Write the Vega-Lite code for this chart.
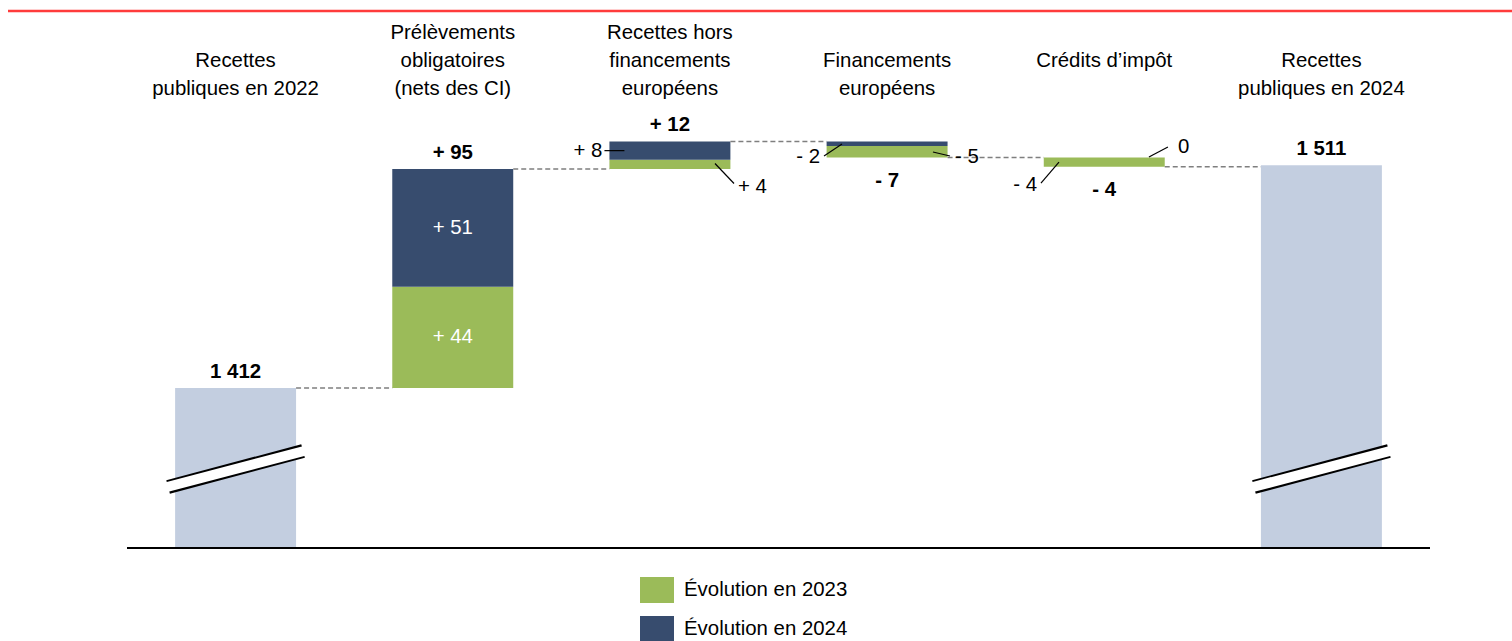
{
  "$schema": "https://vega.github.io/schema/vega-lite/v6.json",
  "padding": {"left": 6, "top": 9, "right": 0, "bottom": 0},
  "spacing": 9,
  "config": {
    "view": {"stroke": null},
    "font": "Liberation Sans",
    "text": {"font": "Liberation Sans", "fontSize": 20, "color": "black"}
  },
  "datasets": {
    "totals": [
      {"cat": "Recettes\npubliques en 2022", "value": 1412, "label": "1 412"},
      {"cat": "Recettes\npubliques en 2024", "value": 1508.7, "label": "1 511"}
    ],
    "segments": [
      {"cat": "Prélèvements\nobligatoires\n(nets des CI)", "serie": "Évolution en 2023", "start": 1412, "end": 1456},
      {"cat": "Prélèvements\nobligatoires\n(nets des CI)", "serie": "Évolution en 2024", "start": 1456, "end": 1507},
      {"cat": "Recettes hors\nfinancements\neuropéens", "serie": "Évolution en 2023", "start": 1507, "end": 1511},
      {"cat": "Recettes hors\nfinancements\neuropéens", "serie": "Évolution en 2024", "start": 1511, "end": 1519},
      {"cat": "Financements\neuropéens", "serie": "Évolution en 2024", "start": 1519, "end": 1517},
      {"cat": "Financements\neuropéens", "serie": "Évolution en 2023", "start": 1517, "end": 1512},
      {"cat": "Crédits d’impôt", "serie": "Évolution en 2023", "start": 1512, "end": 1508}
    ],
    "changes": [
      {"cat": "Prélèvements\nobligatoires\n(nets des CI)", "label": "+ 95", "level": 1507, "pos": "above"},
      {"cat": "Recettes hors\nfinancements\neuropéens", "label": "+ 12", "level": 1519, "pos": "above"},
      {"cat": "Financements\neuropéens", "label": "- 7", "level": 1512, "pos": "below"},
      {"cat": "Crédits d’impôt", "label": "- 4", "level": 1508, "pos": "below"}
    ],
    "connectors": [
      {"from": "Recettes\npubliques en 2022", "to": "Prélèvements\nobligatoires\n(nets des CI)", "level": 1412},
      {"from": "Prélèvements\nobligatoires\n(nets des CI)", "to": "Recettes hors\nfinancements\neuropéens", "level": 1507},
      {"from": "Recettes hors\nfinancements\neuropéens", "to": "Financements\neuropéens", "level": 1519},
      {"from": "Financements\neuropéens", "to": "Crédits d’impôt", "level": 1512},
      {"from": "Crédits d’impôt", "to": "Recettes\npubliques en 2024", "level": 1508}
    ],
    "parts": [
      {"id": "p51", "cat": "Prélèvements\nobligatoires\n(nets des CI)", "label": "+ 51", "level": 1481.5},
      {"id": "p44", "cat": "Prélèvements\nobligatoires\n(nets des CI)", "label": "+ 44", "level": 1434},
      {"id": "r8", "cat": "Recettes hors\nfinancements\neuropéens", "label": "+ 8", "level": 1515},
      {"id": "r4", "cat": "Recettes hors\nfinancements\neuropéens", "label": "+ 4", "level": 1509},
      {"id": "f2", "cat": "Financements\neuropéens", "label": "- 2", "level": 1518},
      {"id": "f5", "cat": "Financements\neuropéens", "label": "- 5", "level": 1514.5},
      {"id": "c4", "cat": "Crédits d’impôt", "label": "- 4", "level": 1510},
      {"id": "c0", "cat": "Crédits d’impôt", "label": "0", "level": 1512}
    ]
  },
  "vconcat": [
    {
      "width": 1385,
      "height": 2,
      "data": {"values": [{}]},
      "mark": {"type": "rule", "color": "#ff3b3b", "strokeWidth": 2.5, "xOffset": -119},
      "encoding": {
        "x": {"datum": 0, "type": "quantitative", "scale": {"domain": [0, 1]}, "axis": null},
        "x2": {"datum": 1},
        "y": {"datum": 1, "type": "quantitative", "scale": {"domain": [0, 2]}, "axis": null}
      }
    },
    {
      "width": 1303,
      "height": 443,
      "layer": [
        {
          "data": {"name": "totals"},
          "mark": {"type": "bar", "color": "#c3cee0"},
          "encoding": {
            "x": {
              "field": "cat", "type": "nominal", "sort": null,
              "scale": {
                "domain": ["Recettes\npubliques en 2022", "Prélèvements\nobligatoires\n(nets des CI)", "Recettes hors\nfinancements\neuropéens", "Financements\neuropéens", "Crédits d’impôt", "Recettes\npubliques en 2024"],
                "paddingInner": 0.443, "paddingOuter": 0.2215
              },
              "axis": {
                "orient": "top", "domain": false, "ticks": false, "grid": false, "title": null,
                "labelAngle": 0,
                "labelExpr": "split((length(split(datum.label, '\\n')) == 3 ? '' : length(split(datum.label, '\\n')) == 2 ? '\\n' : '\\n\\n') + datum.label, '\\n')",
                "labelFont": "Liberation Sans", "labelFontSize": 20.4, "labelColor": "black",
                "labelLineHeight": 28, "labelPadding": 63, "labelLimit": 0
              }
            },
            "y": {
              "field": "value", "type": "quantitative",
              "scale": {"domain": [1342.6, 1534.8], "zero": false, "nice": false},
              "axis": {"domain": false, "ticks": false, "labels": false, "grid": false, "title": null, "minExtent": 119, "maxExtent": 119}
            },
            "y2": {"datum": 1342.6}
          }
        },
        {
          "data": {"name": "segments"},
          "mark": {"type": "bar"},
          "encoding": {
            "x": {"field": "cat", "type": "nominal"},
            "y": {"field": "start", "type": "quantitative"},
            "y2": {"field": "end"},
            "color": {
              "field": "serie", "type": "nominal",
              "scale": {"domain": ["Évolution en 2023", "Évolution en 2024"], "range": ["#9bbb59", "#374c6e"]},
              "legend": {
                "orient": "none", "legendX": 513, "legendY": 563, "title": null, "padding": 0,
                "direction": "vertical",
                "symbolType": "M-1,-0.765H1V0.765H-1Z", "symbolSize": 1156,
                "symbolStrokeWidth": 0, "symbolOpacity": 1,
                "labelFont": "Liberation Sans", "labelFontSize": 20.4, "labelColor": "black",
                "labelOffset": 10, "rowPadding": 8, "labelLimit": 0
              }
            }
          }
        },
        {
          "data": {"name": "totals"},
          "mark": {"type": "rule", "color": "black", "strokeWidth": 14, "xOffset": -7, "x2Offset": 7},
          "encoding": {
            "x": {"field": "cat", "type": "nominal", "bandPosition": 0},
            "x2": {"field": "cat", "bandPosition": 1},
            "y": {"datum": 1369.05, "type": "quantitative"},
            "y2": {"datum": 1384.67}
          }
        },
        {
          "data": {"name": "totals"},
          "mark": {"type": "rule", "color": "white", "strokeWidth": 10, "xOffset": -8, "x2Offset": 8},
          "encoding": {
            "x": {"field": "cat", "type": "nominal", "bandPosition": 0},
            "x2": {"field": "cat", "bandPosition": 1},
            "y": {"datum": 1369.05, "type": "quantitative"},
            "y2": {"datum": 1384.67}
          }
        },
        {
          "data": {"name": "totals"},
          "mark": {"type": "rule", "color": "black", "strokeWidth": 2},
          "encoding": {"y": {"datum": 1342.6, "type": "quantitative"}}
        },
        {
          "data": {"name": "connectors"},
          "mark": {"type": "rule", "color": "#7f7f7f", "strokeWidth": 1.5, "strokeDash": [5, 3]},
          "encoding": {
            "x": {"field": "from", "type": "nominal", "bandPosition": 1},
            "x2": {"field": "to", "bandPosition": 0},
            "y": {"field": "level", "type": "quantitative"}
          }
        },
        {
          "data": {"name": "totals"},
          "mark": {"type": "text", "fontWeight": "bold", "fontSize": 20.4, "baseline": "alphabetic", "dy": -10},
          "encoding": {
            "x": {"field": "cat", "type": "nominal"},
            "y": {"field": "value", "type": "quantitative"},
            "text": {"field": "label"}
          }
        },
        {
          "data": {"name": "changes"},
          "transform": [{"filter": "datum.pos === 'above'"}],
          "mark": {"type": "text", "fontWeight": "bold", "fontSize": 20.4, "baseline": "alphabetic", "dy": -10},
          "encoding": {
            "x": {"field": "cat", "type": "nominal"},
            "y": {"field": "level", "type": "quantitative"},
            "text": {"field": "label"}
          }
        },
        {
          "data": {"name": "changes"},
          "transform": [{"filter": "datum.pos === 'below'"}],
          "mark": {"type": "text", "fontWeight": "bold", "fontSize": 20.4, "baseline": "alphabetic", "dy": 29},
          "encoding": {
            "x": {"field": "cat", "type": "nominal"},
            "y": {"field": "level", "type": "quantitative"},
            "text": {"field": "label"}
          }
        },
        {
          "data": {"name": "parts"},
          "transform": [{"filter": "datum.id === 'p51' || datum.id === 'p44'"}],
          "mark": {"type": "text", "fontSize": 20.4, "color": "white", "baseline": "middle"},
          "encoding": {
            "x": {"field": "cat", "type": "nominal"},
            "y": {"field": "level", "type": "quantitative"},
            "text": {"field": "label"}
          }
        },
        {
          "data": {"name": "parts"},
          "transform": [{"filter": "datum.id === 'r8'"}],
          "layer": [
            {
              "mark": {"type": "rule", "color": "black", "strokeWidth": 1.2, "xOffset": -5, "x2Offset": 15},
              "encoding": {
                "x": {"field": "cat", "type": "nominal", "bandPosition": 0},
                "x2": {"field": "cat", "bandPosition": 0},
                "y": {"field": "level", "type": "quantitative"},
                "y2": {"field": "level"}
              }
            },
            {
              "mark": {"type": "text", "fontSize": 20.4, "align": "right", "baseline": "middle", "dx": -7},
              "encoding": {
                "x": {"field": "cat", "type": "nominal", "bandPosition": 0},
                "y": {"field": "level", "type": "quantitative"},
                "text": {"field": "label"}
              }
            }
          ]
        },
        {
          "data": {"name": "parts"},
          "transform": [{"filter": "datum.id === 'r4'"}],
          "layer": [
            {
              "mark": {"type": "rule", "color": "black", "strokeWidth": 1.2, "xOffset": -15.4, "x2Offset": 3.6, "yOffset": -1, "y2Offset": 19},
              "encoding": {
                "x": {"field": "cat", "type": "nominal", "bandPosition": 1},
                "x2": {"field": "cat", "bandPosition": 1},
                "y": {"field": "level", "type": "quantitative"},
                "y2": {"field": "level"}
              }
            },
            {
              "mark": {"type": "text", "fontSize": 20.4, "align": "left", "baseline": "middle", "dx": 7.6, "dy": 23},
              "encoding": {
                "x": {"field": "cat", "type": "nominal", "bandPosition": 1},
                "y": {"field": "level", "type": "quantitative"},
                "text": {"field": "label"}
              }
            }
          ]
        },
        {
          "data": {"name": "parts"},
          "transform": [{"filter": "datum.id === 'f2'"}],
          "layer": [
            {
              "mark": {"type": "rule", "color": "black", "strokeWidth": 1.2, "xOffset": 15.4, "x2Offset": -2.6, "yOffset": 0.3, "y2Offset": 12.3},
              "encoding": {
                "x": {"field": "cat", "type": "nominal", "bandPosition": 0},
                "x2": {"field": "cat", "bandPosition": 0},
                "y": {"field": "level", "type": "quantitative"},
                "y2": {"field": "level"}
              }
            },
            {
              "mark": {"type": "text", "fontSize": 20.4, "align": "right", "baseline": "middle", "dx": -6.6, "dy": 13.3},
              "encoding": {
                "x": {"field": "cat", "type": "nominal", "bandPosition": 0},
                "y": {"field": "level", "type": "quantitative"},
                "text": {"field": "label"}
              }
            }
          ]
        },
        {
          "data": {"name": "parts"},
          "transform": [{"filter": "datum.id === 'f5'"}],
          "layer": [
            {
              "mark": {"type": "rule", "color": "black", "strokeWidth": 1.2, "xOffset": -14.6, "x2Offset": 2.4, "yOffset": 0.2, "y2Offset": 4.2},
              "encoding": {
                "x": {"field": "cat", "type": "nominal", "bandPosition": 1},
                "x2": {"field": "cat", "bandPosition": 1},
                "y": {"field": "level", "type": "quantitative"},
                "y2": {"field": "level"}
              }
            },
            {
              "mark": {"type": "text", "fontSize": 20.4, "align": "left", "baseline": "middle", "dx": 7.4, "dy": 5.2},
              "encoding": {
                "x": {"field": "cat", "type": "nominal", "bandPosition": 1},
                "y": {"field": "level", "type": "quantitative"},
                "text": {"field": "label"}
              }
            }
          ]
        },
        {
          "data": {"name": "parts"},
          "transform": [{"filter": "datum.id === 'c4'"}],
          "layer": [
            {
              "mark": {"type": "rule", "color": "black", "strokeWidth": 1.2, "xOffset": 15.2, "x2Offset": -2.8, "yOffset": -0.1, "y2Offset": 20.9},
              "encoding": {
                "x": {"field": "cat", "type": "nominal", "bandPosition": 0},
                "x2": {"field": "cat", "bandPosition": 0},
                "y": {"field": "level", "type": "quantitative"},
                "y2": {"field": "level"}
              }
            },
            {
              "mark": {"type": "text", "fontSize": 20.4, "align": "right", "baseline": "middle", "dx": -6.8, "dy": 22.9},
              "encoding": {
                "x": {"field": "cat", "type": "nominal", "bandPosition": 0},
                "y": {"field": "level", "type": "quantitative"},
                "text": {"field": "label"}
              }
            }
          ]
        },
        {
          "data": {"name": "parts"},
          "transform": [{"filter": "datum.id === 'c0'"}],
          "layer": [
            {
              "mark": {"type": "rule", "color": "black", "strokeWidth": 1.2, "xOffset": -15.8, "x2Offset": 3.2, "yOffset": -0.6, "y2Offset": -10.6},
              "encoding": {
                "x": {"field": "cat", "type": "nominal", "bandPosition": 1},
                "x2": {"field": "cat", "bandPosition": 1},
                "y": {"field": "level", "type": "quantitative"},
                "y2": {"field": "level"}
              }
            },
            {
              "mark": {"type": "text", "fontSize": 20.4, "align": "left", "baseline": "middle", "dx": 13.2, "dy": -10.6},
              "encoding": {
                "x": {"field": "cat", "type": "nominal", "bandPosition": 1},
                "y": {"field": "level", "type": "quantitative"},
                "text": {"field": "label"}
              }
            }
          ]
        }
      ]
    }
  ]
}
